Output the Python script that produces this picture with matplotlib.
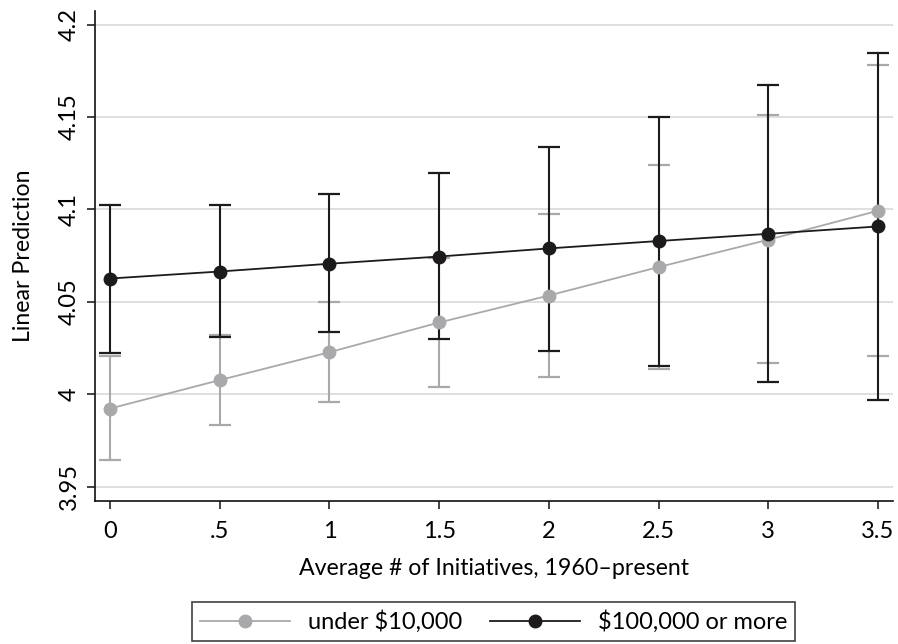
import matplotlib
matplotlib.use("Agg")
import matplotlib.pyplot as plt

plt.rcParams['font.family'] = ['Lato', 'DejaVu Sans']

x = [0, 0.5, 1, 1.5, 2, 2.5, 3, 3.5]
xtick_labels = ["0", ".5", "1", "1.5", "2", "2.5", "3", "3.5"]
yticks = [3.95, 4.0, 4.05, 4.1, 4.15, 4.2]
ytick_labels = ["3.95", "4", "4.05", "4.1", "4.15", "4.2"]

low_mean = [3.9922, 4.0076, 4.0227, 4.0388, 4.0534, 4.0688, 4.0836, 4.0993]
low_lo = [3.9644, 3.9832, 3.9960, 4.0038, 4.0092, 4.0137, 4.0170, 4.0204]
low_hi = [4.0207, 4.0320, 4.0500, 4.0738, 4.0978, 4.1240, 4.1510, 4.1780]

high_mean = [4.0626, 4.0664, 4.0706, 4.0745, 4.0789, 4.0829, 4.0868, 4.0908]
high_lo = [4.0222, 4.0312, 4.0339, 4.0300, 4.0236, 4.0155, 4.0065, 3.9967]
high_hi = [4.1025, 4.1024, 4.1085, 4.1195, 4.1340, 4.1500, 4.1674, 4.1848]

labels = ["under $10,000", "$100,000 or more"]
gray = "#a9a9ab"
black = "#1c1a1b"

fig = plt.figure(figsize=(8.98, 6.44), dpi=100)
ax = fig.add_axes([0.1061, 0.2216, 0.888, 0.7618])

for mean, lo, hi, col in [(low_mean, low_lo, low_hi, gray), (high_mean, high_lo, high_hi, black)]:
    yerr = [[m - l for m, l in zip(mean, lo)], [h - m for m, h in zip(mean, hi)]]
    ax.errorbar(x, mean, yerr=yerr, fmt='none', ecolor=col, elinewidth=1.5,
                capsize=8, capthick=1.6, zorder=3)

l1, = ax.plot(x, low_mean, color=gray, lw=1.3, marker='o', ms=9, mec=gray, mfc=gray, zorder=4)
l2, = ax.plot(x, high_mean, color=black, lw=1.3, marker='o', ms=9, mec=black, mfc=black, zorder=5)

ax.set_xlim(-0.067, 3.567)
ax.set_ylim(3.942, 4.2076)
ax.set_xticks(x)
ax.set_xticklabels(xtick_labels, fontsize=17)
ax.set_yticks(yticks)
ax.set_yticklabels(ytick_labels, fontsize=17, rotation=90, va='center')
ax.grid(axis='y', color='#dcdcdc', lw=1.3, zorder=0)
ax.set_axisbelow(True)
for s in ['top', 'right']:
    ax.spines[s].set_visible(False)
for s in ['left', 'bottom']:
    ax.spines[s].set_linewidth(1.2)
    ax.spines[s].set_color('#111111')
ax.tick_params(axis='both', length=6, width=1.1, color='#111111', direction='out')
ax.tick_params(axis='x', pad=8)
ax.tick_params(axis='y', pad=5)

ax.set_xlabel("Average # of Initiatives, 1960\u2013present", fontsize=16.7, labelpad=12)
ax.set_ylabel("Linear Prediction", fontsize=16.7, labelpad=18)

leg = fig.legend([l1, l2], labels, loc='center', bbox_to_anchor=(0.5496, 1 - 621.5 / 644),
                 ncol=2, fontsize=17, frameon=True, fancybox=False, handlelength=3.8,
                 columnspacing=1.2, handletextpad=0.75, borderpad=0.33, borderaxespad=0)
leg.get_frame().set_edgecolor('#111111')
leg.get_frame().set_linewidth(1.2)

fig.savefig("out.png", dpi=100)
